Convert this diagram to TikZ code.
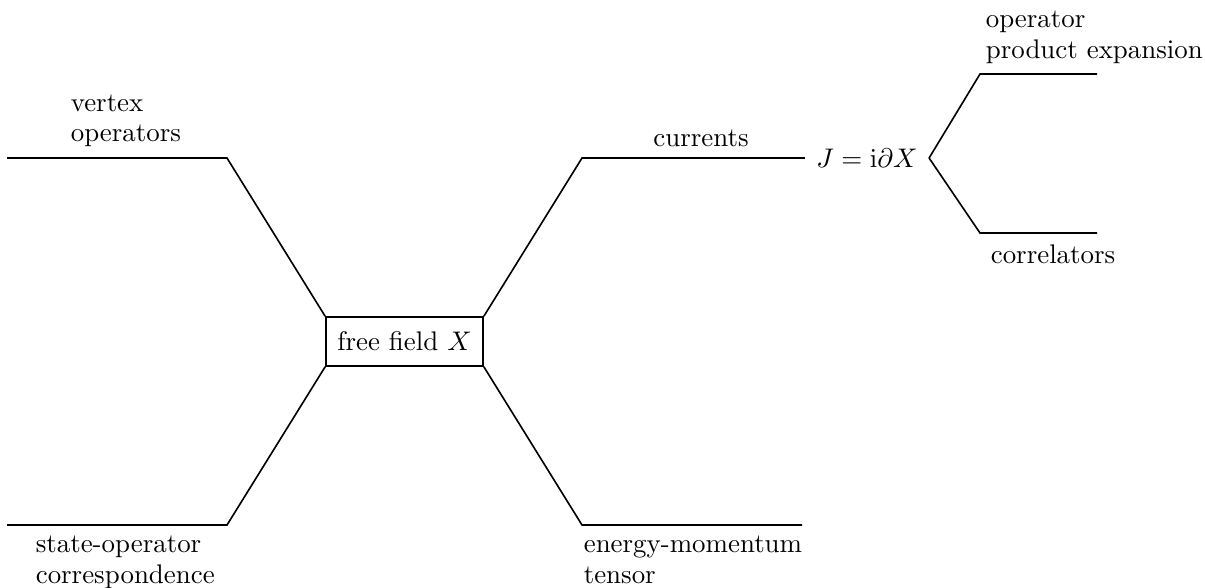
\documentclass[tikz,border=0pt]{standalone}
\usepackage{amsmath,amssymb}
\usepackage{tikz}
\usetikzlibrary{positioning,calc}

\begin{document}
\begin{tikzpicture}[
    x=0.3717pt, y=-0.3717pt,
    semithick,
    field/.style={rectangle, draw, minimum width=58.4pt, minimum height=18.2pt, inner sep=3pt},
    lbl/.style={inner sep=0pt, align=left, font=\fontsize{10}{11.2}\selectfont},
    jnode/.style={inner xsep=4pt, inner ysep=3pt}
]
\useasboundingbox (0,0) rectangle (1205,587);

% Central field
\node[field] (field) at (404.5,341.5) {free field $X$};

% Corners and free ends
\coordinate (vtx_end) at (7,158);
\coordinate (vtx_knee) at (227,158);
\coordinate (sop_end) at (7,525);
\coordinate (sop_knee) at (227,525);
\coordinate (cur_knee) at (582,158);
\coordinate (emt_knee) at (582,525);
\coordinate (emt_end) at (802,525);

% Current node and its branches
\node[jnode] (current) at (867,158) {$J=\mathrm{i}\partial X$};
\coordinate (ope_knee) at (980,74);
\coordinate (ope_end) at (1097,74);
\coordinate (cor_knee) at (980,233);
\coordinate (cor_end) at (1097,233);

% Connections
\draw (vtx_end) -- (vtx_knee) -- (field.north west);
\draw (sop_end) -- (sop_knee) -- (field.south west);
\draw (field.north east) -- (cur_knee) -- (current.west);
\draw (field.south east) -- (emt_knee) -- (emt_end);
\draw (current.east) -- (ope_knee) -- (ope_end);
\draw (current.east) -- (cor_knee) -- (cor_end);

% Labels
\node[lbl, anchor=base west] (vtx_lbl) at (70,141.7) {vertex\\operators};
\node[lbl, anchor=base west] (sop_lbl) at (35,583) {state-operator\\correspondence};
\node[lbl, anchor=base] (cur_lbl) at (701,146.7) {currents};
\node[lbl, anchor=base west] (emt_lbl) at (583,583) {energy-momentum\\tensor};
\node[lbl, anchor=base west] (ope_lbl) at (985,58) {operator\\product expansion};
\node[lbl, anchor=base west] (cor_lbl) at (990,263) {correlators};

\end{tikzpicture}
\end{document}
